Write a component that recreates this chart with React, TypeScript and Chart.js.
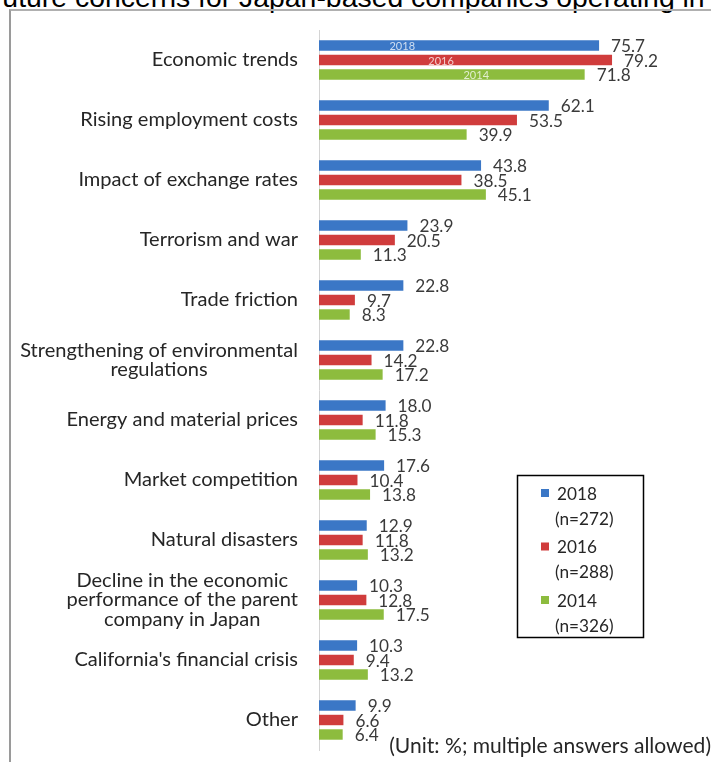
import React, { useEffect, useRef } from "react";
import { Chart, registerables } from "chart.js";

Chart.register(...registerables);

const categories: string[][] = [
  ["Economic trends"],
  ["Rising employment costs"],
  ["Impact of exchange rates"],
  ["Terrorism and war"],
  ["Trade friction"],
  ["Strengthening of environmental", "regulations"],
  ["Energy and material prices"],
  ["Market competition"],
  ["Natural disasters"],
  ["Decline in the economic", "performance of the parent", "company in Japan"],
  ["California's financial crisis"],
  ["Other"],
];
const values2018 = [75.7, 62.1, 43.8, 23.9, 22.8, 22.8, 18.0, 17.6, 12.9, 10.3, 10.3, 9.9];
const values2016 = [79.2, 53.5, 38.5, 20.5, 9.7, 14.2, 11.8, 10.4, 11.8, 12.8, 9.4, 6.6];
const values2014 = [71.8, 39.9, 45.1, 11.3, 8.3, 17.2, 15.3, 13.8, 13.2, 17.5, 13.2, 6.4];
const seriesNames = ["2018", "2016", "2014"];
const sampleSizes = ["(n=272)", "(n=288)", "(n=326)"];
const innerLabelValues = [22.5, 33, 42.5];
const colors = ["#3b77c6", "#d03c3c", "#8dbc3e"];
const titleText = "Future concerns for Japan-based companies operating in California";
const unitNote = "(Unit: %; multiple answers allowed)";

const FONT = "Lato, 'Open Sans', sans-serif";

function fitSize(ctx: CanvasRenderingContext2D, text: string, target: number): number {
  ctx.font = `100px ${FONT}`;
  const w = ctx.measureText(text).width;
  return (100 * target) / w;
}

const overlayPlugin = {
  id: "overlay",
  afterDatasetsDraw(chart: any) {
    const ctx: CanvasRenderingContext2D = chart.ctx;
    const xs = chart.scales.x;
    const ys = chart.scales.y;
    ctx.save();
    const catSize = fitSize(ctx, "Strengthening of environmental", 278);
    const valSize = fitSize(ctx, "75.7", 34);
    const unitSize = fitSize(ctx, unitNote, 322);

    // value labels
    ctx.font = `${valSize}px ${FONT}`;
    ctx.fillStyle = "#3a3a3a";
    ctx.textBaseline = "middle";
    ctx.textAlign = "left";
    chart.data.datasets.forEach((ds: any, di: number) => {
      const meta = chart.getDatasetMeta(di);
      meta.data.forEach((bar: any, i: number) => {
        ctx.fillText(Number(ds.data[i]).toFixed(1), bar.x + 12, bar.y + 1);
      });
    });

    // inner series labels in first category
    ctx.font = `11px ${FONT}`;
    ctx.fillStyle = "rgba(255,255,255,0.75)";
    ctx.textAlign = "center";
    chart.data.datasets.forEach((ds: any, di: number) => {
      const bar = chart.getDatasetMeta(di).data[0];
      ctx.fillText(seriesNames[di], xs.getPixelForValue(innerLabelValues[di]), bar.y + 1);
    });

    // category labels (right-aligned block, lines centered)
    ctx.font = `${catSize}px ${FONT}`;
    ctx.fillStyle = "#262626";
    const lh = 19.5;
    const right = xs.left - 21;
    categories.forEach((lines, i) => {
      const cy = ys.getPixelForValue(i);
      const widest = Math.max(...lines.map((l) => ctx.measureText(l).width));
      const cx = right - widest / 2;
      lines.forEach((l, j) => {
        ctx.fillText(l, cx, cy + (j - (lines.length - 1) / 2) * lh);
      });
    });

    // legend box
    ctx.strokeStyle = "#000";
    ctx.lineWidth = 1.5;
    ctx.strokeRect(517.5, 475.5, 126, 162);
    ctx.textAlign = "left";
    ctx.font = `${valSize}px ${FONT}`;
    ctx.fillStyle = "#262626";
    for (let k = 0; k < 3; k++) {
      const y0 = 493 + k * 53.5;
      ctx.fillStyle = colors[k];
      ctx.fillRect(541, y0 - 4, 8, 8);
      ctx.fillStyle = "#262626";
      ctx.fillText(seriesNames[k], 557, y0 + 1);
      ctx.fillText(sampleSizes[k], 555, y0 + 26);
    }

    // unit note
    ctx.font = `${unitSize}px ${FONT}`;
    ctx.textAlign = "right";
    ctx.fillText(unitNote, 711, 746);
    ctx.restore();
  },
};

export default function App() {
  const ref = useRef<HTMLCanvasElement>(null);
  useEffect(() => {
    if (!ref.current) return;
    const chart = new Chart(ref.current, {
      type: "bar",
      data: {
        labels: categories.map((c) => c.join(" ")),
        datasets: [values2018, values2016, values2014].map((d, k) => ({
          label: seriesNames[k],
          data: d,
          backgroundColor: colors[k],
          borderWidth: 0,
          categoryPercentage: 0.725,
          barPercentage: 0.72,
        })),
      },
      options: {
        indexAxis: "y",
        animation: false,
        responsive: false,
        devicePixelRatio: 1,
        layout: { padding: { left: 311, right: 22, top: 30, bottom: 12 } },
        plugins: { legend: { display: false }, tooltip: { enabled: false }, title: { display: false } },
        scales: {
          x: { display: false, min: 0, max: 100 },
          y: {
            display: true,
            ticks: { display: false },
            grid: { display: false },
            border: { display: true, color: "#d4d4d4", width: 1 },
          },
        },
      },
      plugins: [overlayPlugin],
    });
    return () => chart.destroy();
  }, []);

  return (
    <div style={{ position: "absolute", left: 0, top: 0, width: 711, height: 762, overflow: "hidden", background: "#fff" }}>
      <div
        style={{
          position: "absolute",
          left: -15,
          top: -19,
          whiteSpace: "nowrap",
          fontFamily: "'Liberation Sans', Arial, sans-serif",
          fontSize: 28.4,
          lineHeight: "32px",
          color: "#000",
        }}
      >
        {titleText}
      </div>
      <div
        style={{
          position: "absolute",
          left: 9,
          top: 9,
          width: 720,
          height: 800,
          borderLeft: "2px solid #9a9a9a",
          borderTop: "2px solid #b0b0b0",
          boxSizing: "border-box",
        }}
      />
      <canvas ref={ref} width={711} height={762} style={{ position: "absolute", left: 0, top: 0, display: "block" }} />
    </div>
  );
}
